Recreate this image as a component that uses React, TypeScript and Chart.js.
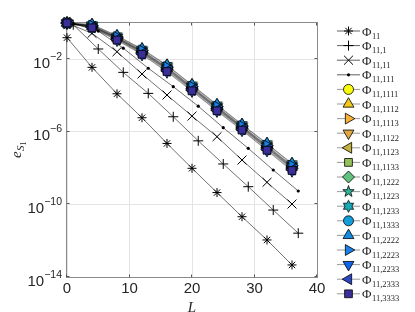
import React, { useEffect, useRef } from "react";
import { Chart, registerables } from "chart.js";
import { drawPoint } from "chart.js/helpers";

Chart.register(...registerables);

// ---- data ----
const L_even = [0, 4, 8, 12, 16, 20, 24, 28, 32, 36];
const L_odd = [1, 5, 9, 13, 17, 21, 25, 29, 33, 37];

const phi11 = [1.55e-1, 3.6e-3, 1.26e-4, 6.0e-6, 2.3e-7, 9.8e-9, 4.5e-10, 2.1e-11, 1.1e-12, 4.6e-14];
const phi11_1 = [8.0e-1, 3.7e-2, 1.9e-3, 1.32e-4, 6.8e-6, 3.2e-7, 1.7e-8, 9.5e-10, 4.9e-11, 2.6e-12];
const phi11_11 = [1.0, 2.7e-1, 2.6e-2, 1.55e-3, 1.07e-4, 7.4e-6, 5.4e-7, 2.8e-8, 1.66e-9, 1.05e-10];
const phi11_111 = [9.5e-1, 3.6e-1, 4.1e-2, 3.2e-3, 3.1e-4, 2.6e-5, 1.7e-6, 1.23e-7, 7.9e-9, 5.5e-10];

const phi11_1111 = [1, 0.65, 0.145, 2.51e-2, 2.95e-3, 2.51e-4, 2.0e-5, 1.7e-6, 1.38e-7, 1.07e-8];
const phi11_1112 = [1, 0.66, 0.149, 2.62e-2, 3.1e-3, 2.63e-4, 2.09e-5, 1.77e-6, 1.45e-7, 1.13e-8];
const phi11_1113 = [1, 0.61, 0.136, 2.31e-2, 2.68e-3, 2.29e-4, 1.82e-5, 1.56e-6, 1.25e-7, 9.6e-9];
const phi11_1122 = [1, 0.68, 0.154, 2.73e-2, 3.25e-3, 2.75e-4, 2.19e-5, 1.85e-6, 1.53e-7, 1.19e-8];
const phi11_1123 = [1, 0.63, 0.14, 2.41e-2, 2.81e-3, 2.4e-4, 1.91e-5, 1.63e-6, 1.31e-7, 1.02e-8];
const phi11_1133 = [1, 0.6, 0.131, 2.22e-2, 2.55e-3, 2.19e-4, 1.74e-5, 1.49e-6, 1.19e-7, 9.1e-9];
const phi11_1222 = [1, 0.71, 0.164, 2.96e-2, 3.58e-3, 3.02e-4, 2.4e-5, 2.02e-6, 1.69e-7, 1.32e-8];
const phi11_1223 = [1, 0.79, 0.186, 3.5e-2, 4.4e-3, 3.6e-4, 2.9e-5, 2.4e-6, 2.1e-7, 1.62e-8];
const phi11_1233 = [1, 0.81, 0.195, 3.6e-2, 4.6e-3, 3.8e-4, 3.0e-5, 2.5e-6, 2.2e-7, 1.74e-8];
const phi11_1333 = [1, 0.7, 0.159, 2.84e-2, 3.41e-3, 2.88e-4, 2.29e-5, 1.94e-6, 1.61e-7, 1.26e-8];
const phi11_2222 = [1, 0.83, 0.2, 3.8e-2, 4.8e-3, 4.0e-4, 3.2e-5, 2.6e-6, 2.3e-7, 1.8e-8];
const phi11_2223 = [1, 0.73, 0.17, 3.1e-2, 3.76e-3, 3.16e-4, 2.5e-5, 2.11e-6, 1.78e-7, 1.4e-8];
const phi11_2233 = [1, 0.53, 0.112, 1.8e-2, 2.0e-3, 1.74e-4, 1.38e-5, 1.2e-6, 9.2e-8, 7.0e-9];
const phi11_2333 = [1, 0.57, 0.123, 2.04e-2, 2.32e-3, 2.0e-4, 1.58e-5, 1.36e-6, 1.07e-7, 8.2e-9];
const phi11_3333 = [1, 0.54, 0.115, 1.88e-2, 2.1e-3, 1.82e-4, 1.45e-5, 1.25e-6, 9.7e-8, 7.4e-9];

const xTicks = [0, 10, 20, 30, 40];
const yTickValues = [1e-14, 1e-10, 1e-6, 1e-2];
const yTickExponents = ["\u221214", "\u221210", "\u22126", "\u22122"];

// ---- styles ----
function makeStar(n: number, outer: number, inner: number, fill: string) {
  const size = Math.ceil(outer * 2 + 3);
  const c = document.createElement("canvas");
  c.width = size;
  c.height = size;
  const ctx = c.getContext("2d")!;
  const cx = size / 2, cy = size / 2;
  ctx.beginPath();
  for (let k = 0; k < n * 2; k++) {
    const r = k % 2 === 0 ? outer : inner;
    const a = -Math.PI / 2 + (k * Math.PI) / n;
    const px = cx + r * Math.cos(a), py = cy + r * Math.sin(a);
    if (k === 0) ctx.moveTo(px, py); else ctx.lineTo(px, py);
  }
  ctx.closePath();
  ctx.fillStyle = fill;
  ctx.fill();
  ctx.lineWidth = 0.8;
  ctx.strokeStyle = "#000";
  ctx.stroke();
  return c;
}

type S = {
  sub: string; xs: number[]; ys: number[]; style: any; rot: number; r: number;
  fill: string; bw: number; line: string; lw: number;
};

const BLACK_LINE = "rgba(0,0,0,0.7)";
const BAND_LINE = "rgba(0,0,0,0.45)";

function buildSeries(): S[] {
  const band = (sub: string, ys: number[], style: any, rot: number, r: number, fill: string): S => ({
    sub, xs: L_even, ys, style, rot, r, fill, bw: 0.8, line: BAND_LINE, lw: 0.6,
  });
  return [
    { sub: "11", xs: L_even, ys: phi11, style: "star", rot: 0, r: 4.5, fill: "#000", bw: 1, line: BLACK_LINE, lw: 0.8 },
    { sub: "11,1", xs: L_odd, ys: phi11_1, style: "cross", rot: 0, r: 5, fill: "#000", bw: 1, line: BLACK_LINE, lw: 0.8 },
    { sub: "11,11", xs: L_even, ys: phi11_11, style: "crossRot", rot: 0, r: 6.3, fill: "#000", bw: 1, line: BLACK_LINE, lw: 0.8 },
    { sub: "11,111", xs: L_odd, ys: phi11_111, style: "circle", rot: 0, r: 1.6, fill: "#000", bw: 0, line: BLACK_LINE, lw: 0.8 },
    band("11,1111", phi11_1111, "circle", 0, 5, "#F9FB0E"),
    band("11,1112", phi11_1112, "triangle", 0, 6.3, "#F3C81C"),
    band("11,1113", phi11_1113, "triangle", 90, 6.3, "#F9B035"),
    band("11,1122", phi11_1122, "triangle", 180, 6.3, "#E0A842"),
    band("11,1123", phi11_1123, "triangle", 270, 6.3, "#C2B23F"),
    band("11,1133", phi11_1133, "rect", 0, 5.5, "#95C15B"),
    band("11,1222", phi11_1222, "rectRot", 0, 6, "#62C27D"),
    band("11,1223", phi11_1223, makeStar(5, 6, 2.4, "#2EB59A"), 0, 6, "#2EB59A"),
    band("11,1233", phi11_1233, makeStar(6, 6, 3.4, "#16ABB9"), 0, 6, "#16ABB9"),
    band("11,1333", phi11_1333, "circle", 0, 5, "#149ED9"),
    band("11,2222", phi11_2222, "triangle", 0, 6.3, "#138DE3"),
    band("11,2223", phi11_2223, "triangle", 90, 6.3, "#1A7FE6"),
    band("11,2233", phi11_2233, "triangle", 180, 6.3, "#0F65EC"),
    band("11,2333", phi11_2333, "triangle", 270, 6.3, "#2A46C2"),
    band("11,3333", phi11_3333, "rect", 0, 5.5, "#3A2F99"),
  ];
}

const TEXT = "#262626";

export default function App() {
  const ref = useRef<HTMLCanvasElement | null>(null);

  useEffect(() => {
    const canvas = ref.current;
    if (!canvas) return;
    const series = buildSeries();

    const decor = {
      id: "decor",
      beforeDatasetsDraw(chart: any) {
        const { ctx, chartArea: a } = chart;
        const xs = chart.scales.x, ys = chart.scales.y;
        ctx.save();
        ctx.strokeStyle = "#8a8a8a";
        ctx.lineWidth = 1;
        ctx.strokeRect(a.left - 0.5, a.top - 0.5, a.right - a.left + 1, a.bottom - a.top + 1);
        ctx.strokeStyle = "#555";
        ctx.beginPath();
        const tl = 2.5;
        xTicks.forEach((v) => {
          const px = Math.round(xs.getPixelForValue(v)) - 0.5;
          ctx.moveTo(px, a.bottom); ctx.lineTo(px, a.bottom - tl);
          ctx.moveTo(px, a.top); ctx.lineTo(px, a.top + tl);
        });
        yTickValues.forEach((v) => {
          const py = Math.round(ys.getPixelForValue(v)) - 0.5;
          ctx.moveTo(a.left, py); ctx.lineTo(a.left + tl, py);
          ctx.moveTo(a.right, py); ctx.lineTo(a.right - tl, py);
        });
        ctx.stroke();
        ctx.restore();
      },
      afterDraw(chart: any) {
        const { ctx, chartArea: a } = chart;
        const ys = chart.scales.y;
        ctx.save();
        ctx.fillStyle = TEXT;
        ctx.textBaseline = "alphabetic";
        ctx.textAlign = "left";
        // y tick labels
        yTickValues.forEach((v, i) => {
          const py = ys.getPixelForValue(v);
          ctx.font = '15px "Liberation Sans"';
          const w1 = ctx.measureText("10").width;
          ctx.font = '10.5px "Liberation Sans"';
          const w2 = ctx.measureText(yTickExponents[i]).width;
          const x0 = a.left - 5 - w1 - w2;
          ctx.font = '15px "Liberation Sans"';
          ctx.fillText("10", x0, py + 8.5);
          ctx.font = '10.5px "Liberation Sans"';
          ctx.fillText(yTickExponents[i], x0 + w1, py + 0.5);
        });
        // x title
        ctx.font = 'italic 15px "Liberation Serif"';
        ctx.textAlign = "center";
        ctx.fillText("L", (a.left + a.right) / 2, 311.5);
        // y title
        ctx.textAlign = "left";
        ctx.save();
        ctx.translate(20.5, (a.top + a.bottom) / 2);
        ctx.rotate(-Math.PI / 2);
        ctx.font = 'italic 15px "Liberation Serif"';
        const we = ctx.measureText("e").width;
        ctx.font = 'italic 11px "Liberation Serif"';
        const ws = ctx.measureText("S").width;
        ctx.font = '8px "Liberation Serif"';
        const w1 = ctx.measureText("1").width;
        let x = -(we + ws + w1) / 2;
        ctx.font = 'italic 15px "Liberation Serif"';
        ctx.fillText("e", x, 0);
        x += we + 0.5;
        ctx.font = 'italic 11px "Liberation Serif"';
        ctx.fillText("S", x, 3);
        x += ws;
        ctx.font = '8px "Liberation Serif"';
        ctx.fillText("1", x, 5);
        ctx.restore();
        // legend
        series.forEach((s, i) => {
          const y = 31 + i * 14.6;
          ctx.strokeStyle = s.line;
          ctx.lineWidth = 0.9;
          ctx.beginPath();
          ctx.moveTo(337, y);
          ctx.lineTo(360, y);
          ctx.stroke();
          ctx.fillStyle = s.fill;
          ctx.strokeStyle = "#000";
          ctx.lineWidth = s.bw;
          drawPoint(ctx, { pointStyle: s.style, rotation: s.rot, radius: s.r, borderWidth: s.bw } as any, 348.5, y);
          ctx.fillStyle = TEXT;
          ctx.font = '13px "Liberation Serif"';
          ctx.fillText("\u03A6", 362, y + 4.5);
          const wp = ctx.measureText("\u03A6").width;
          ctx.font = '8.5px "Liberation Serif"';
          ctx.fillText(s.sub, 362 + wp + 0.5, y + 7.5);
        });
        ctx.restore();
      },
    };

    const chart = new Chart(canvas, {
      type: "scatter",
      data: {
        datasets: series.map((s, i) => ({
          label: "\u03A6" + s.sub,
          data: s.xs.map((x, k) => ({ x, y: s.ys[k] })),
          showLine: true,
          borderColor: s.line,
          borderWidth: s.lw,
          pointStyle: s.style,
          pointRadius: s.r,
          pointHoverRadius: s.r,
          pointRotation: s.rot,
          pointBackgroundColor: s.fill,
          pointBorderColor: "#000",
          pointBorderWidth: s.bw,
          pointHoverBorderWidth: s.bw,
          clip: false as any,
          order: -i,
        })),
      },
      options: {
        responsive: false,
        animation: false,
        events: [],
        layout: { padding: { left: 0, right: 98, top: 23, bottom: 0 } },
        plugins: { legend: { display: false }, tooltip: { enabled: false }, title: { display: false } },
        scales: {
          x: {
            type: "linear",
            min: 0,
            max: 40,
            afterBuildTicks: (scale: any) => { scale.ticks = xTicks.map((v) => ({ value: v })); },
            afterFit: (scale: any) => { scale.height = 35; },
            ticks: { color: TEXT, font: { family: "Liberation Sans", size: 15 }, padding: 3, maxRotation: 0 },
            grid: { color: "#e4e4e4", drawTicks: false },
            border: { display: false },
          },
          y: {
            type: "logarithmic",
            min: 1e-14,
            max: 1,
            afterBuildTicks: (scale: any) => { scale.ticks = yTickValues.map((v) => ({ value: v })); },
            afterFit: (scale: any) => { scale.width = 67; },
            ticks: { display: false },
            grid: { color: "#e4e4e4", drawTicks: false },
            border: { display: false },
          },
        },
      },
      plugins: [decor],
    } as any);

    return () => chart.destroy();
  }, []);

  return (
    <div style={{ position: "absolute", left: 0, top: 0, width: 415, height: 312, background: "#fff" }}>
      <canvas ref={ref} width={415} height={312} style={{ width: 415, height: 312 }} />
    </div>
  );
}
